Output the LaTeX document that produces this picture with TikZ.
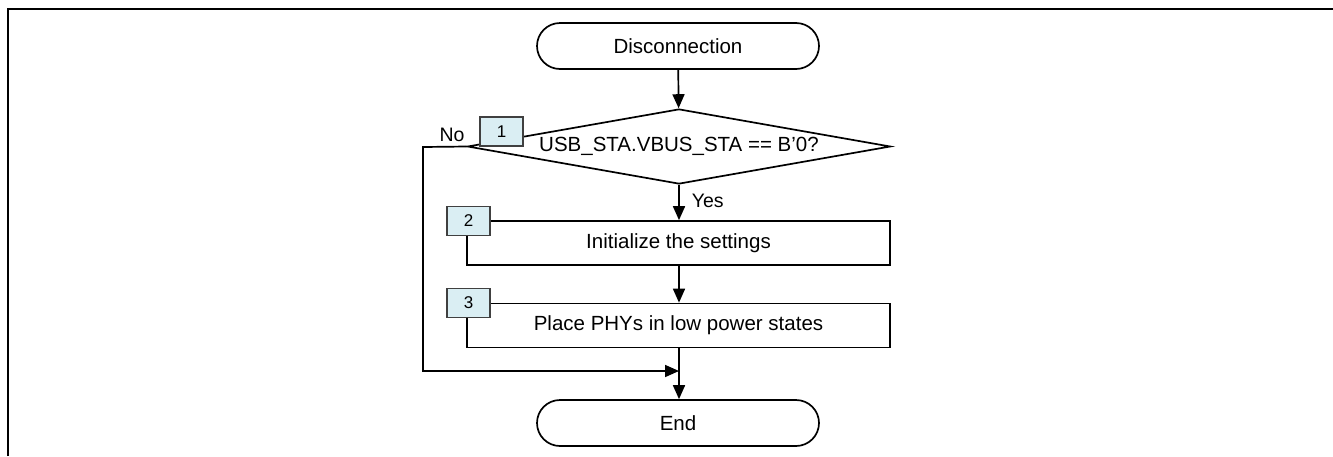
\documentclass[tikz,border=0pt]{standalone}
\usepackage{fontspec}
\setmainfont{Liberation Sans}
\usetikzlibrary{shapes.geometric,arrows.meta}
\begin{document}
\begin{tikzpicture}[x=1pt,y=-1pt,
  line width=1.7pt,
  every node/.style={font=\fontsize{20.5}{24}\selectfont},
  term/.style={draw,rectangle,rounded corners=23pt,minimum width=282pt,minimum height=46pt,inner sep=0pt},
  proc/.style={draw,rectangle,minimum width=423pt,minimum height=44pt,inner sep=0pt},
  dec/.style={draw,diamond,shape aspect=5.64,minimum width=423pt,minimum height=75pt,inner sep=0pt},
  tag/.style={draw=black!75,fill={rgb,255:red,218;green,238;blue,243},line width=1.3pt,rectangle,minimum width=43pt,minimum height=29pt,inner sep=0pt,font=\fontsize{17}{19}\selectfont},
  arr/.style={-{Triangle[length=14pt,width=12pt]}},
  lbl/.style={inner sep=0pt,font=\fontsize{19.5}{22}\selectfont}
]
\useasboundingbox (0,0) rectangle (1333,456);
\draw[line width=2pt] (8,456) -- (8,8.5) -- (1333,8.5);

\node[term] (start) at (678,46) {Disconnection};
\node[dec] (d) at (679,146.5) {USB\_STA.VBUS\_STA == B'0?};
\node[proc] (p2) at (678.5,243) {Initialize the settings};
\node[proc] (p3) at (678.5,325.5) {Place PHYs in low power states};
\node[term] (end) at (678,423) {End};
\coordinate (j) at (679,371);
\coordinate (c1) at (423,147);
\coordinate (c2) at (423,371);

\draw[arr] (start) -- (d);
\draw[arr] (d.south) -- (p2.north -| d.south);
\draw[arr] (p2.south -| d.south) -- (p3.north -| d.south);
\draw[arr] (p3.south -| d.south) -- (end.north -| d.south);
\draw[arr] (d.west) -- (c1) -- (c2) -- (j);

\node[tag] (t1) at (501.5,131.5) {1};
\node[tag] (t2) at (468.5,221) {2};
\node[tag] (t3) at (468.5,303) {3};

\node[lbl] (no) at (452,135) {No};
\node[lbl,anchor=west] (yes) at (691,201) {Yes};
\end{tikzpicture}
\end{document}
